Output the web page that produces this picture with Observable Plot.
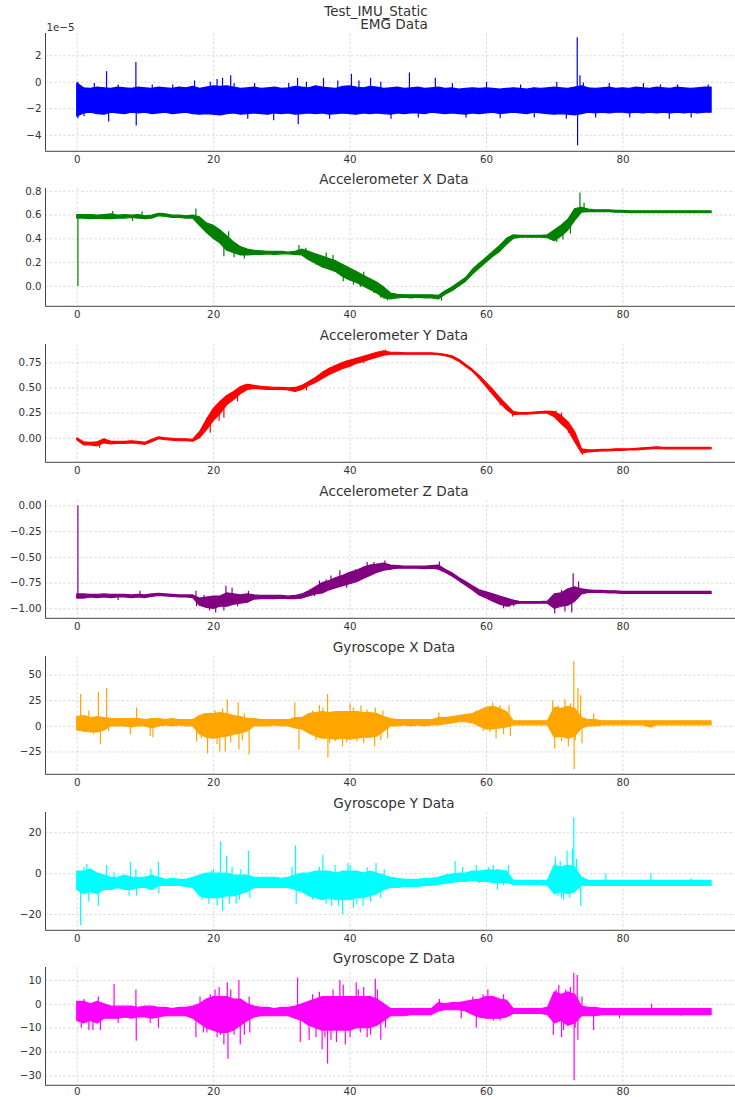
<!DOCTYPE html>
<html><head><meta charset="utf-8">
<script src="https://cdn.jsdelivr.net/npm/d3@7"></script>
<script src="https://cdn.jsdelivr.net/npm/@observablehq/plot@0.6"></script>
<style>
body{margin:0;background:#fff;}
#wrap{position:relative;width:735px;height:1097px;overflow:hidden;background:#fff;font-family:"DejaVu Sans",sans-serif;}
.panel{position:absolute;left:0;}
#suptitle{position:absolute;left:0;width:752px;text-align:center;top:4.7px;font-size:13.4px;line-height:13.4px;color:#333;z-index:2;white-space:pre;}
</style></head><body><div id="wrap"><div id="suptitle">Test_IMU_Static</div></div>
<script>
// time axis (seconds)
const T = [0,1,2,3,4,5,6,7,8,9,10,11,12,13,14,15,16,17,18,19,20,21,22,23,24,25,26,27,28,29,30,31,32,33,34,35,36,37,38,39,40,41,42,43,44,45,46,47,48,49,50,51,52,53,54,55,56,57,58,59,60,61,62,63,64,65,66,67,68,69,70,71,72,73,74,75,76,77,78,79,80,81,82,83,84,85,86,87,88,89,90,91,92,93];
const XTICKS = [0,20,40,60,80];

// EMG (units of 1e-5): upper / lower envelope of the dense trace
const emgHi = [-0.1,-0.45,-0.5,-0.4,-0.45,-0.5,-0.4,-0.45,-0.5,-0.4,
 -0.45,-0.5,-0.4,-0.45,-0.5,-0.4,-0.45,-0.35,-0.5,-0.4,
 -0.3,-0.35,-0.3,-0.4,-0.5,-0.45,-0.4,-0.5,-0.45,-0.4,
 -0.5,-0.45,-0.35,-0.4,-0.45,-0.3,-0.4,-0.45,-0.5,-0.35,
 -0.3,-0.4,-0.45,-0.35,-0.4,-0.5,-0.45,-0.4,-0.5,-0.45,
 -0.4,-0.5,-0.45,-0.4,-0.5,-0.45,-0.55,-0.5,-0.45,-0.5,
 -0.45,-0.5,-0.55,-0.5,-0.45,-0.5,-0.55,-0.45,-0.5,-0.45,
 -0.4,-0.45,-0.5,-0.4,-0.3,-0.45,-0.5,-0.45,-0.4,-0.5,
 -0.45,-0.5,-0.4,-0.45,-0.5,-0.4,-0.45,-0.5,-0.4,-0.45,
 -0.5,-0.45,-0.4,-0.4];
const emgLo = [-2.6,-2.35,-2.3,-2.4,-2.45,-2.3,-2.35,-2.4,-2.3,-2.35,
 -2.3,-2.4,-2.35,-2.3,-2.4,-2.35,-2.3,-2.4,-2.45,-2.4,
 -2.45,-2.5,-2.4,-2.35,-2.45,-2.4,-2.35,-2.4,-2.45,-2.35,
 -2.4,-2.35,-2.45,-2.4,-2.35,-2.4,-2.35,-2.45,-2.4,-2.35,
 -2.4,-2.45,-2.35,-2.4,-2.35,-2.4,-2.45,-2.35,-2.4,-2.35,
 -2.35,-2.4,-2.3,-2.35,-2.4,-2.35,-2.4,-2.45,-2.35,-2.4,
 -2.35,-2.3,-2.4,-2.35,-2.3,-2.35,-2.4,-2.3,-2.35,-2.4,
 -2.45,-2.4,-2.45,-2.5,-2.4,-2.3,-2.35,-2.3,-2.35,-2.3,
 -2.3,-2.35,-2.3,-2.35,-2.3,-2.35,-2.3,-2.35,-2.3,-2.35,
 -2.3,-2.35,-2.3,-2.3];
const emgSpikes = [[0.1,0],[0.1,-2.75],[1,-2.6],[2.5,-0.1],[4.3,0.8],[4.6,-3.0],[6,-0.2],[8.6,1.5],[8.65,-3.3],[11,-0.2],[14,-0.2],[17.2,0.1],[19.5,0],[20.5,0.2],[21.3,0.3],[22.5,0.5],[23,-0.1],[25,-2.8],[26,-0.1],[28.8,-2.9],[31,-0.1],[32.3,0.3],[32.4,-3.2],[33.6,0],[36.1,0.3],[37,-2.8],[38.2,0.1],[40.2,0.6],[41.3,0.1],[43,0.3],[44.5,0],[46,-2.8],[48.7,0.7],[50,-2.7],[52.5,0.3],[55,-0.1],[57,-2.7],[60,0],[62,-2.75],[65,-0.2],[67,-2.7],[70.3,0],[71.7,-2.8],[73.3,3.35],[73.35,-4.8],[73.7,0.5],[74.2,-0.05],[76,-2.7],[78,-0.1],[81,-2.7],[83,-0.1],[85.5,-0.2],[86.8,-2.8],[88,-0.2],[90,-2.7],[92.5,-0.2]];

// Accelerometer X
const accXLo = [.57,.57,.565,.57,.565,.565,.57,.57,.575,.57,
 .565,.57,.59,.585,.575,.575,.57,.57,.51,.45,
 .40,.36,.30,.28,.26,.26,.265,.265,.27,.265,
 .27,.27,.265,.26,.22,.19,.16,.14,.12,.08,
 .05,.03,.00,-.03,-.06,-.10,-.11,-.10,-.095,-.10,
 -.095,-.10,-.10,-.11,-.07,-.04,.00,.04,.10,.15,
 .20,.25,.29,.35,.40,.41,.41,.41,.41,.405,
 .38,.42,.47,.55,.62,.625,.625,.625,.625,.62,
 .62,.615,.615,.615,.615,.615,.615,.615,.615,.615,
 .615,.615,.615,.615];
const accXHi = [.60,.60,.60,.595,.60,.605,.595,.60,.595,.60,
 .59,.595,.61,.605,.595,.595,.59,.595,.58,.53,
 .51,.47,.42,.37,.33,.31,.30,.295,.29,.29,
 .29,.285,.29,.31,.29,.27,.25,.23,.21,.18,
 .15,.12,.09,.06,.03,-.01,-.06,-.07,-.075,-.075,
 -.075,-.075,-.075,-.08,-.04,-.01,.03,.07,.14,.19,
 .24,.29,.34,.40,.43,.425,.425,.425,.425,.43,
 .47,.51,.56,.65,.66,.645,.64,.64,.64,.635,
 .635,.632,.632,.632,.632,.632,.632,.632,.632,.632,
 .632,.632,.632,.632];
const accXSpikes = [[0.1,0],[5.2,.63],[8.1,.545],[9.5,.625],[12.3,.615],[17.4,.65],[18.3,.55],[19.5,.52],[20.5,.38],[21.5,.25],[22.2,.46],[23,.24],[24.5,.23],[32.5,.345],[33.5,.32],[35,.18],[36.5,.28],[37.5,.26],[39,.04],[40.5,.01],[41.5,-.01],[42,.12],[43.5,-.06],[44.5,-.10],[45.5,-.12],[53.4,-.125],[70.3,.37],[70.7,.50],[71.2,.39],[72.3,.44],[72.7,.60],[73.7,.785],[74.3,.70]];

// Accelerometer Y
const accYLo = [-.02,-.07,-.07,-.08,-.05,-.06,-.055,-.055,-.05,-.055,
 -.065,-.04,-.01,-.02,-.025,-.03,-.03,-.035,.00,.08,
 .17,.24,.33,.38,.44,.48,.49,.485,.48,.48,
 .48,.475,.46,.48,.52,.55,.59,.63,.66,.69,
 .71,.74,.76,.78,.80,.82,.83,.83,.83,.83,
 .83,.83,.83,.825,.815,.795,.76,.71,.66,.59,
 .51,.43,.35,.28,.23,.235,.235,.24,.245,.245,
 .21,.14,.08,-.04,-.15,-.14,-.135,-.13,-.13,-.125,
 -.125,-.12,-.12,-.115,-.11,-.105,-.11,-.11,-.11,-.11,
 -.11,-.11,-.11,-.11];
const accYHi = [.00,-.04,-.045,-.04,-.01,-.035,-.035,-.035,-.03,-.035,
 -.045,-.015,.01,.00,-.005,-.01,-.01,-.015,.06,.18,
 .29,.36,.42,.46,.51,.53,.52,.51,.505,.50,
 .50,.495,.50,.52,.56,.60,.65,.69,.72,.75,
 .77,.79,.81,.83,.85,.865,.85,.85,.845,.845,
 .845,.845,.845,.84,.83,.815,.78,.73,.68,.62,
 .55,.48,.40,.33,.26,.25,.25,.255,.26,.265,
 .26,.22,.16,.06,-.11,-.12,-.12,-.115,-.115,-.11,
 -.11,-.11,-.105,-.10,-.095,-.09,-.095,-.095,-.095,-.095,
 -.095,-.095,-.095,-.095];
const accYSpikes = [[3.3,-.10],[19,.20],[19.5,.05],[20.3,.32],[20.8,.17],[21.5,.20],[22.5,.44],[23.5,.36],[24.5,.53],[25.3,.535],[33.6,.47],[36.5,.66],[39.5,.77],[42,.74],[45.2,.875],[60.5,.48],[62,.32],[63.8,.21],[70.2,.27],[71,.25],[72,.05],[72.5,.02],[74.1,-.17]];

// Accelerometer Z
const accZLo = [-.90,-.90,-.89,-.895,-.89,-.895,-.89,-.89,-.895,-.89,
 -.895,-.885,-.875,-.88,-.885,-.89,-.89,-.895,-.97,-.99,
 -1.0,-.98,-.98,-.96,-.95,-.94,-.91,-.905,-.905,-.905,
 -.90,-.905,-.905,-.90,-.88,-.86,-.85,-.82,-.80,-.78,
 -.76,-.74,-.71,-.68,-.65,-.63,-.62,-.61,-.61,-.61,
 -.61,-.615,-.61,-.62,-.65,-.685,-.73,-.775,-.82,-.87,
 -.90,-.93,-.96,-.98,-.96,-.95,-.95,-.95,-.95,-.95,
 -1.0,-.98,-.97,-.93,-.86,-.845,-.845,-.845,-.85,-.85,
 -.855,-.855,-.855,-.855,-.855,-.855,-.855,-.855,-.855,-.855,
 -.855,-.855,-.855,-.855];
const accZHi = [-.86,-.86,-.865,-.865,-.86,-.865,-.865,-.865,-.87,-.865,
 -.87,-.86,-.855,-.86,-.865,-.87,-.87,-.87,-.90,-.89,
 -.88,-.88,-.85,-.86,-.87,-.86,-.87,-.875,-.875,-.875,
 -.875,-.88,-.875,-.86,-.83,-.79,-.75,-.73,-.70,-.68,
 -.65,-.63,-.60,-.58,-.57,-.56,-.58,-.585,-.59,-.59,
 -.59,-.59,-.585,-.58,-.62,-.655,-.70,-.74,-.78,-.82,
 -.84,-.86,-.88,-.90,-.92,-.935,-.935,-.935,-.935,-.93,
 -.86,-.85,-.81,-.79,-.81,-.82,-.825,-.825,-.83,-.83,
 -.835,-.835,-.835,-.835,-.835,-.835,-.835,-.835,-.835,-.835,
 -.835,-.835,-.835,-.835];
const accZSpikes = [[0.1,0],[6,-.92],[9.2,-.83],[17.4,-.83],[17.5,-.98],[18.6,-.87],[19.4,-1.02],[20.3,-1.04],[21.5,-1.02],[21.8,-.78],[22.7,-.80],[23.5,-.98],[25.1,-.83],[34.8,-.88],[35.5,-.73],[36.5,-.72],[37.2,-.68],[38.5,-.63],[39.5,-.80],[40.8,-.62],[42.5,-.55],[43.5,-.55],[45.1,-.535],[53.1,-.545],[62.5,-1.0],[63.3,-.99],[64,-.98],[70,-1.05],[71,-.82],[71.5,-1.03],[72.5,-1.04],[72.7,-.66],[73.5,-.74]];

// Gyroscope X
const gxLo = [-4,-5,-6,-6,-4,0,0,0,-1,0,
 0,-2,0,1,0,1,0,0,-8,-11,
 -12,-11,-10,-8,-7,-5,0,0,0,1,
 0,0,-2,-3,-7,-10,-12,-12,-13,-12,
 -13,-12,-11,-11,-10,-5,0,0,1,0,
 1,0,1,1,2,3,4,4,3,0,
 -3,-3,-2,-1,1,1,1,1,1,1,
 -11,-10,-12,-10,-2,0,0,1,1,1,
 1,1,1,1,-1,1,1,1,1,1,
 1,1,1,1];
const gxHi = [9,10,8,9,8,7,7,7,7,7,
 6,7,7,6,7,6,6,6,10,12,
 12,13,12,10,9,7,7,6,6,6,
 6,6,8,8,12,13,14,13,14,14,
 14,14,13,13,12,9,7,6,6,6,
 6,6,6,8,8,9,10,11,12,15,
 18,19,17,14,5,5,5,5,5,5,
 18,17,19,17,8,6,6,5,5,5,
 5,5,5,5,5,5,5,5,5,5,
 5,5,5,5];
const gxSpikes = [[0.5,31],[0.9,-6],[1.7,15],[2.4,-8],[3.1,33],[3.4,-18],[4.3,37],[4.6,-5],[5.8,8],[7.8,-8],[8.7,18],[10.7,-10],[11.1,-11],[12,8],[17.5,-15],[18.2,-12],[18.5,12],[19.1,-27],[19.5,13],[20.2,15],[20.5,-18],[20.9,-25],[21.3,17],[21.7,-25],[22,26],[22.5,-16],[23.6,23],[23.7,-23],[24.2,-14],[24.5,12],[25.2,-28],[31.9,23],[32.5,-23],[34.5,15],[35,-14],[35.5,20],[36,18],[36.7,31],[36.75,-31],[37,-17],[37.8,-15],[38.2,14],[38.9,-20],[39.5,-16],[40,22],[40.5,18],[41,-15],[41.6,20],[42,-17],[42.5,16],[43.6,-20],[43.7,18],[44.5,-14],[44.8,15],[45.5,-12],[53,13],[55,8],[58.5,15],[59.5,-5],[60.5,-6],[60.9,23],[61.4,-12],[62,20],[62.5,-8],[63.3,20],[63.5,-10],[69.7,25],[70,-22],[70.5,20],[71,-15],[71.5,26],[72,-20],[72.3,22],[72.8,63],[72.85,-42],[73,-14],[73.4,37],[73.8,30],[74,-17],[75.7,12],[84.2,-2]];

// Gyroscope Y
const gyLo = [-8,-10,-9,-10,-8,-8,-7,-8,-8,-7,
 -7,-8,-6,-6,-6,-6,-6.5,-7,-11,-12,
 -12,-12,-11,-11,-10,-9,-7,-7,-7,-7,
 -7,-7,-8,-9,-11,-12,-13,-12,-13,-13,
 -13,-12,-12,-11,-10,-8,-7,-7,-6.5,-6.5,
 -6.5,-6,-6,-5.5,-5,-4.5,-4,-4,-3.5,-4,
 -4,-4.5,-4.5,-4.5,-5.5,-5.5,-5.5,-5.5,-5.5,-6,
 -10,-9,-10,-9,-6,-6,-6,-6,-6,-6,
 -6,-6,-6,-6,-6,-6,-6,-6,-6,-6,
 -6,-6,-6,-6];
const gyHi = [1,1,2,0,-1,-2,-2,-1,-2,-2,
 -2,-1,-2,-3,-2.5,-3,-3,-2,-1,0,
 0,0,0,-1,-1,-1,-2,-2,-2,-2,
 -2.5,-2,-1,0,0,1,1,1,0,1,
 1,1,0,1,0,-1,-2,-2.5,-3,-3,
 -3,-2.5,-2.5,-2,-1,-0.5,0,0,1,1,
 1.5,1.5,1.5,1,-3.5,-3.5,-3.5,-3.5,-3.5,-3.5,
 4,3,4,3,-2,-3.5,-3.5,-3.5,-3.5,-3.5,
 -3.5,-3.5,-3.5,-3.5,-3.5,-3.5,-3.5,-3.5,-3.5,-3.5,
 -3.5,-3.5,-3.5,-3.5];
const gySpikes = [[0.3,-8],[0.5,-25.5],[1,3],[1.4,4.5],[1.7,-14],[3.1,-16],[4.3,4],[5.4,0.5],[7.6,-11],[7.8,5.5],[8.6,2],[8.7,-11],[10.8,2],[11.9,5.5],[11.95,-10],[18.3,-13],[19.3,-15],[19.7,1],[20,2],[20.5,-16],[21,15.5],[21.3,-18.5],[21.9,8.5],[22.3,-15],[22.7,3],[23.3,-15],[23.8,-13],[24,2],[25.1,11],[25.3,-12],[31.5,3],[32,13.5],[32.1,-15],[34.5,-13],[35,-12],[35.5,3],[36,9],[36.5,-15],[37.3,-16],[37.8,4],[38.3,-16],[38.9,-20],[39.7,5],[40,4],[40.5,-17],[41,-15],[41.9,-16],[42.5,3],[43,-14],[43.8,5],[44.5,-12],[45,2],[55.4,6],[56.5,3],[58.5,4],[59,-5],[60.3,3],[61,4],[61.6,-8],[62.5,-6],[63.2,4],[70.1,8],[70.5,-11],[70.8,6],[71,-12],[71.3,-13],[71.8,11],[72.2,-12],[72.6,12],[72.8,27.5],[73.2,7],[73.8,-16],[74.2,-2],[77.5,0],[84.1,0],[90,-2.5]];

// Gyroscope Z
const gzLo = [-7,-8,-7,-8,-6,-6,-6,-5.5,-6,-5.5,
 -5.5,-6,-5.5,-5,-5,-5,-5,-6,-8,-10,
 -11,-12,-12,-11,-9,-7,-5.5,-5,-5,-5,
 -5,-5,-6,-7,-9,-10,-11,-11,-11,-11,
 -11,-10,-10,-10,-9,-7,-5,-5,-5,-4.5,
 -4.5,-4.5,-4.5,-3,-2.5,-2.5,-2.5,-3,-4.5,-5.5,
 -6,-6,-6,-5.5,-4,-4,-4,-4,-4,-4.5,
 -8,-7,-9,-8,-5,-5,-5,-4.5,-4.5,-4.5,
 -4.5,-4.5,-4.5,-4.5,-4.5,-4.5,-4.5,-4.5,-4.5,-4.5,
 -4.5,-4.5,-4.5,-4.5];
const gzHi = [1,1,0,1,0,-1,-1,-1,-1,-1.5,
 -1,-1,-1.5,-1.5,-2,-1.5,-1.5,-1,0,2,
 3,3,3,2,2,0,-1,-1.5,-1.5,-2,
 -1.5,-1.5,-1,0,1,2,3,3,3,3,
 3,3,3,3,2,0,-2,-2,-2,-2,
 -2,-2,-2,0.5,0,0.5,0.5,1,1.5,2,
 3,3,2,1.5,-2,-2,-2,-2,-2,-1.5,
 5,4,5,4,-1,-1.5,-1.5,-2,-2,-2,
 -2,-2,-2,-2,-2,-2,-2,-2,-2,-2,
 -2,-2,-2,-2];
const gzSpikes = [[0.3,0.5],[0.6,-10],[1,2],[1.7,-11],[2.3,-11],[3.1,3],[3.4,-11],[5.4,8.3],[6,-8],[8.6,6],[8.65,-15.5],[10.7,-8],[11.9,-10],[17.4,-14],[18,3],[18.5,-12],[19,-12],[19.5,4],[20.2,6],[20.5,-14],[20.8,7],[21,-13],[21.5,-17],[22,9],[22.1,-23],[22.5,6],[23,-13],[23.7,10],[23.9,-17],[24.5,-13],[25.2,3],[25.3,-12],[32.3,11],[32.7,-16],[34,-15],[34.5,4],[35,-14],[35.5,5],[35.9,-19],[36.3,-14],[36.7,-25],[37.2,-15],[37.5,6],[38,-16],[38.5,10],[39,8],[39.3,-17],[40,-14],[40.9,9],[41.2,6],[41.5,-12],[42,7],[42.5,-14],[43,-13],[43.7,10.5],[44,6],[44.5,-15],[45.2,-10],[53.1,2],[56.3,-6],[58,3],[58.5,-10],[59.5,4],[60.2,6],[61,-7],[62,-7],[62.5,4],[69.8,-13],[70.2,6],[70.6,8],[71,-14],[71.3,-11],[71.6,6],[72.3,7],[72.8,13],[72.85,-32],[73,-10],[73.3,12],[73.4,-15],[74,3],[75.7,-11],[79.5,-6],[84.2,0],[88.5,-5]];

const titles = ["EMG Data","Accelerometer X Data","Accelerometer Y Data","Accelerometer Z Data","Gyroscope X Data","Gyroscope Y Data","Gyroscope Z Data"];
const colors = ["blue","green","red","purple","orange","cyan","magenta"];
const yTicks = [[-4,-2,0,2],[0,0.2,0.4,0.6,0.8],[0,0.25,0.5,0.75],[-1,-0.75,-0.5,-0.25,0],[-25,0,25,50],[-20,0,20],[-30,-20,-10,0,10]];

const panels = [
  {lo:emgLo, hi:emgHi, spikes:emgSpikes, domain:[-5.21,3.68], fmt:d3.format("d"), offset:"1e\u22125"},
  {lo:accXLo, hi:accXHi, spikes:accXSpikes, domain:[-0.167,0.823], fmt:d3.format(".1f")},
  {lo:accYLo, hi:accYHi, spikes:accYSpikes, domain:[-0.239,0.932], fmt:d3.format(".2f")},
  {lo:accZLo, hi:accZHi, spikes:accZSpikes, domain:[-1.092,0.053], fmt:d3.format(".2f")},
  {lo:gxLo, hi:gxHi, spikes:gxSpikes, domain:[-46.8,68.2], fmt:d3.format("d")},
  {lo:gyLo, hi:gyHi, spikes:gySpikes, domain:[-27.7,29.9], fmt:d3.format("d")},
  {lo:gzLo, hi:gzHi, spikes:gzSpikes, domain:[-33.9,15.4], fmt:d3.format("d")}
];

const XDOM = [-4.65, 96.5];
const gridStyle = {stroke:"#d2d2d2", strokeOpacity:1, strokeWidth:0.8, strokeDasharray:"2.5,2"};
const wrap = document.getElementById("wrap");

panels.forEach((p, k) => {
  const color = colors[k];
  const last = k === panels.length - 1;
  const rows = T.map((t, i) => ({t, lo: p.lo[i], hi: p.hi[i]}));
  const sp = p.spikes.map(([t, v]) => {
    const i = Math.max(0, Math.min(T.length - 1, Math.round(t)));
    return {t, v, b: (p.lo[i] + p.hi[i]) / 2};
  });
  const marks = [
    Plot.gridX(XTICKS, gridStyle),
    Plot.gridY(yTicks[k], gridStyle),
    Plot.ruleX(sp, {x: "t", y1: "b", y2: "v", stroke: color, strokeWidth: 1.2}),
    Plot.areaY(rows, {x: "t", y1: "lo", y2: "hi", fill: color, stroke: color, strokeWidth: 1.2, strokeLinejoin: "round"}),
    Plot.axisX(XTICKS, {tickSize: 0, tickPadding: last ? 2.5 : 4, label: null}),
    Plot.axisY(yTicks[k], {tickSize: 0, tickPadding: 4, tickFormat: p.fmt, label: null}),
    Plot.ruleY([p.domain[0]], {stroke: "#444", strokeWidth: 1}),
    Plot.ruleX([XDOM[0]], {stroke: "#444", strokeWidth: 1}),
    Plot.text([titles[k]], {frameAnchor: "top", lineAnchor: "bottom", dy: -4.5, dx: 3.5, fontSize: 13.6, fill: "#333"})
  ];
  if (p.offset) marks.push(Plot.text([p.offset], {frameAnchor: "top-left", textAnchor: "start", lineAnchor: "bottom", dy: -2.5, dx: 1, fontSize: 10.3, fill: "#333"}));
  const svg = Plot.plot({
    width: 735, height: last ? 151.7 : 155.8,
    marginLeft: 45, marginRight: 0, marginTop: 22, marginBottom: last ? 11.9 : 16,
    x: {domain: XDOM, label: null},
    y: {domain: p.domain, label: null},
    style: {fontFamily: "DejaVu Sans", fontSize: "10.3px", color: "#333", background: "transparent", overflow: "visible"},
    marks
  });
  svg.classList.add("panel");
  svg.style.position = "absolute";
  svg.style.left = "0px";
  svg.style.top = (10.5 + k * 155.8) + "px";
  wrap.appendChild(svg);
});
</script></body></html>
